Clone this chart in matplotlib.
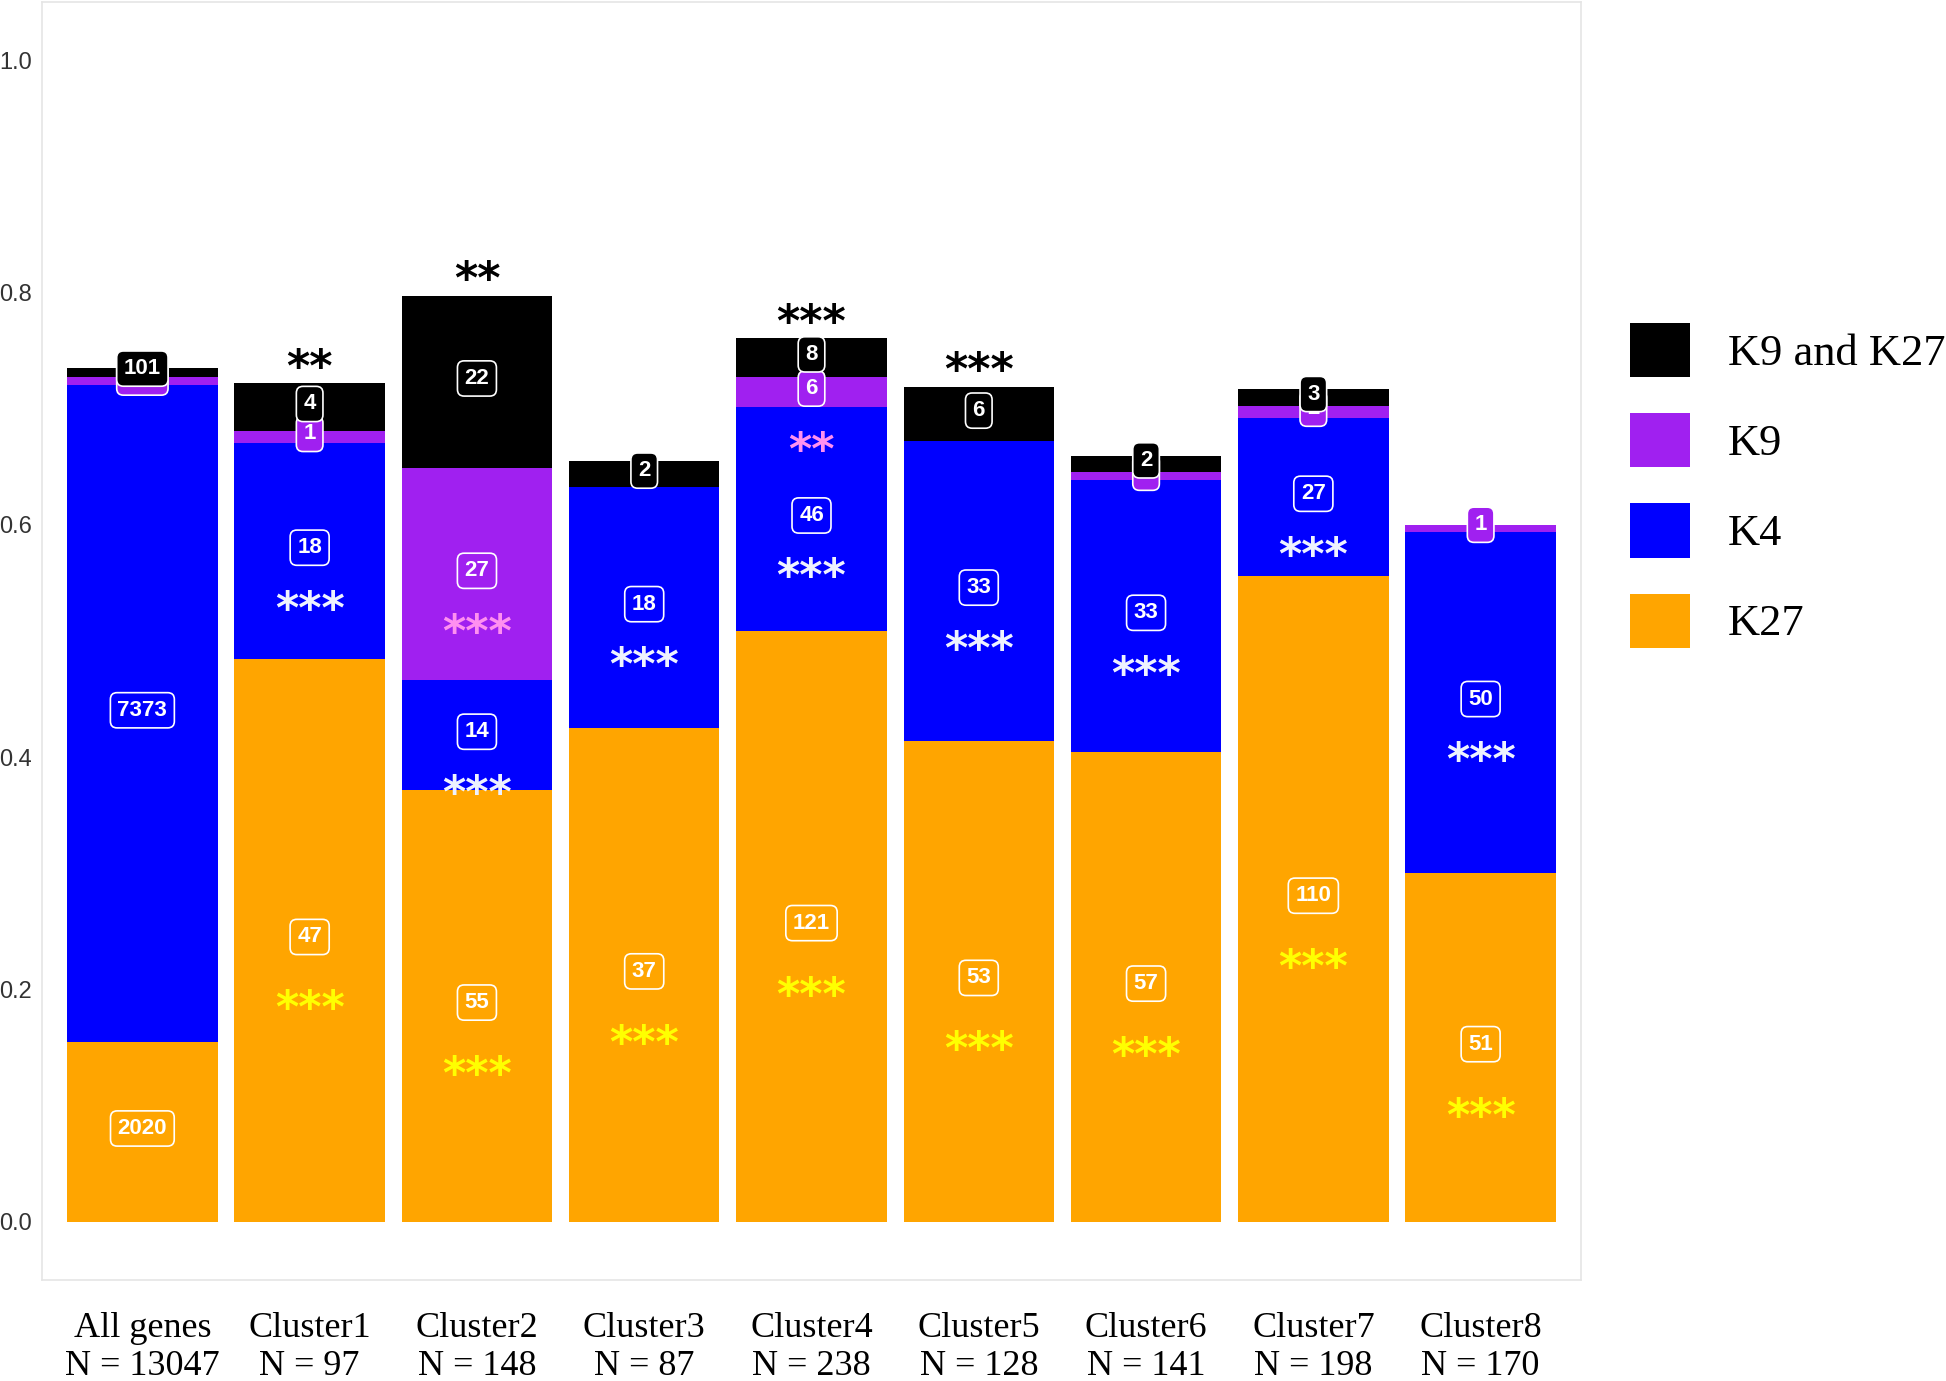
import matplotlib.pyplot as plt
import matplotlib.transforms as mtransforms
from matplotlib.patches import Patch

# data
groups = ["All genes", "Cluster1", "Cluster2", "Cluster3", "Cluster4",
          "Cluster5", "Cluster6", "Cluster7", "Cluster8"]
n_genes = [13047, 97, 148, 87, 238, 128, 141, 198, 170]
k27 = [2020, 47, 55, 37, 121, 53, 57, 110, 51]
k4 = [7373, 18, 14, 18, 46, 33, 33, 27, 50]
k9 = [100, 1, 27, 0, 6, 0, 1, 2, 1]
k9_k27 = [101, 4, 22, 2, 8, 6, 2, 3, 0]

# significance marks
sig_k27 = ["", "***", "***", "***", "***", "***", "***", "***", "***"]
sig_k4 = ["", "***", "***", "***", "***", "***", "***", "***", "***"]
sig_k9 = ["", "", "***", "", "**", "", "", "", ""]
sig_top = ["", "**", "**", "", "***", "***", "", "", ""]

# name, counts, fill, marks, mark colour, mark offset below the label
segments = [
    ("K27", k27, "#FFA500", sig_k27, "#FFFF00", 0.048),
    ("K4", k4, "#0000FF", sig_k4, "#EEF2FF", 0.039),
    ("K9", k9, "#A020F0", sig_k9, "#FF90F0", 0.039),
    ("K9 and K27", k9_k27, "#000000", None, None, 0.0),
]

fig = plt.figure(figsize=(19.46, 13.81), dpi=100)
ax = fig.add_axes([42 / 1946, 1 - 1280 / 1381, (1581 - 42) / 1946, 1278 / 1381])

x = list(range(len(groups)))
bottoms = [0.0] * len(groups)
labels = []
stars = []
for name, counts, color, sig, sig_color, off in segments:
    frac = [c / n for c, n in zip(counts, n_genes)]
    ax.bar(x, frac, bottom=bottoms, width=0.9, color=color, linewidth=0)
    for i in x:
        mid = bottoms[i] + frac[i] / 2
        if counts[i] > 0:
            labels.append((i, mid, counts[i], color))
        if sig is not None and sig[i]:
            stars.append((i, mid - off, sig[i], sig_color))
    bottoms = [b + f for b, f in zip(bottoms, frac)]

label_tr = mtransforms.offset_copy(ax.transData, fig, x=0, y=2.5, units="points")
star_tr = mtransforms.offset_copy(ax.transData, fig, x=0, y=-0.59 * 32, units="points")

for i, y, val, color in labels:
    ax.text(i, y, str(val), ha="center", va="center", color="white",
            fontsize=16, fontweight="bold", family="Liberation Sans", zorder=5,
            transform=label_tr,
            bbox=dict(boxstyle="round,pad=0.32,rounding_size=0.3",
                      facecolor=color, edgecolor="white", linewidth=1.2))

for i, y, val, color in stars:
    ax.text(i, y, val, ha="center", va="baseline", color=color, fontsize=32,
            fontweight="bold", family="DejaVu Sans", transform=star_tr, zorder=6)

for i in x:
    if sig_top[i]:
        ax.text(i, bottoms[i] + 0.025, sig_top[i], ha="center", va="baseline",
                color="black", fontsize=32, fontweight="bold", family="DejaVu Sans",
                transform=star_tr, zorder=6)

ax.set_xlim(-0.6, len(groups) - 0.4)
ax.set_ylim(-0.05, 1.05)
ax.set_yticks([0.0, 0.2, 0.4, 0.6, 0.8, 1.0])
ax.set_yticklabels(["0.0", "0.2", "0.4", "0.6", "0.8", "1.0"],
                   family="Liberation Sans", fontsize=17, color="#333333")
ax.set_xticks(x)
ax.set_xticklabels(["{}\nN = {}".format(g, n) for g, n in zip(groups, n_genes)],
                   family="Liberation Serif", fontsize=26, color="black",
                   linespacing=1.2)
ax.tick_params(axis="both", length=0)
ax.tick_params(axis="y", pad=7)
ax.tick_params(axis="x", pad=23)
for s in ax.spines.values():
    s.set_color("#E5E5E5")
    s.set_linewidth(1.2)

handles = [Patch(facecolor=seg[2], edgecolor="none", label=seg[0])
           for seg in reversed(segments)]
fig.legend(handles=handles, loc="upper left",
           bbox_to_anchor=(1630 / 1946, 1 - 323 / 1381),
           frameon=False, borderpad=0, borderaxespad=0,
           prop={"family": "Liberation Serif", "size": 32},
           handlelength=1.36, handleheight=1.5, handletextpad=0.84,
           labelspacing=0.81)

fig.savefig("out.png", dpi=100, facecolor="white")
